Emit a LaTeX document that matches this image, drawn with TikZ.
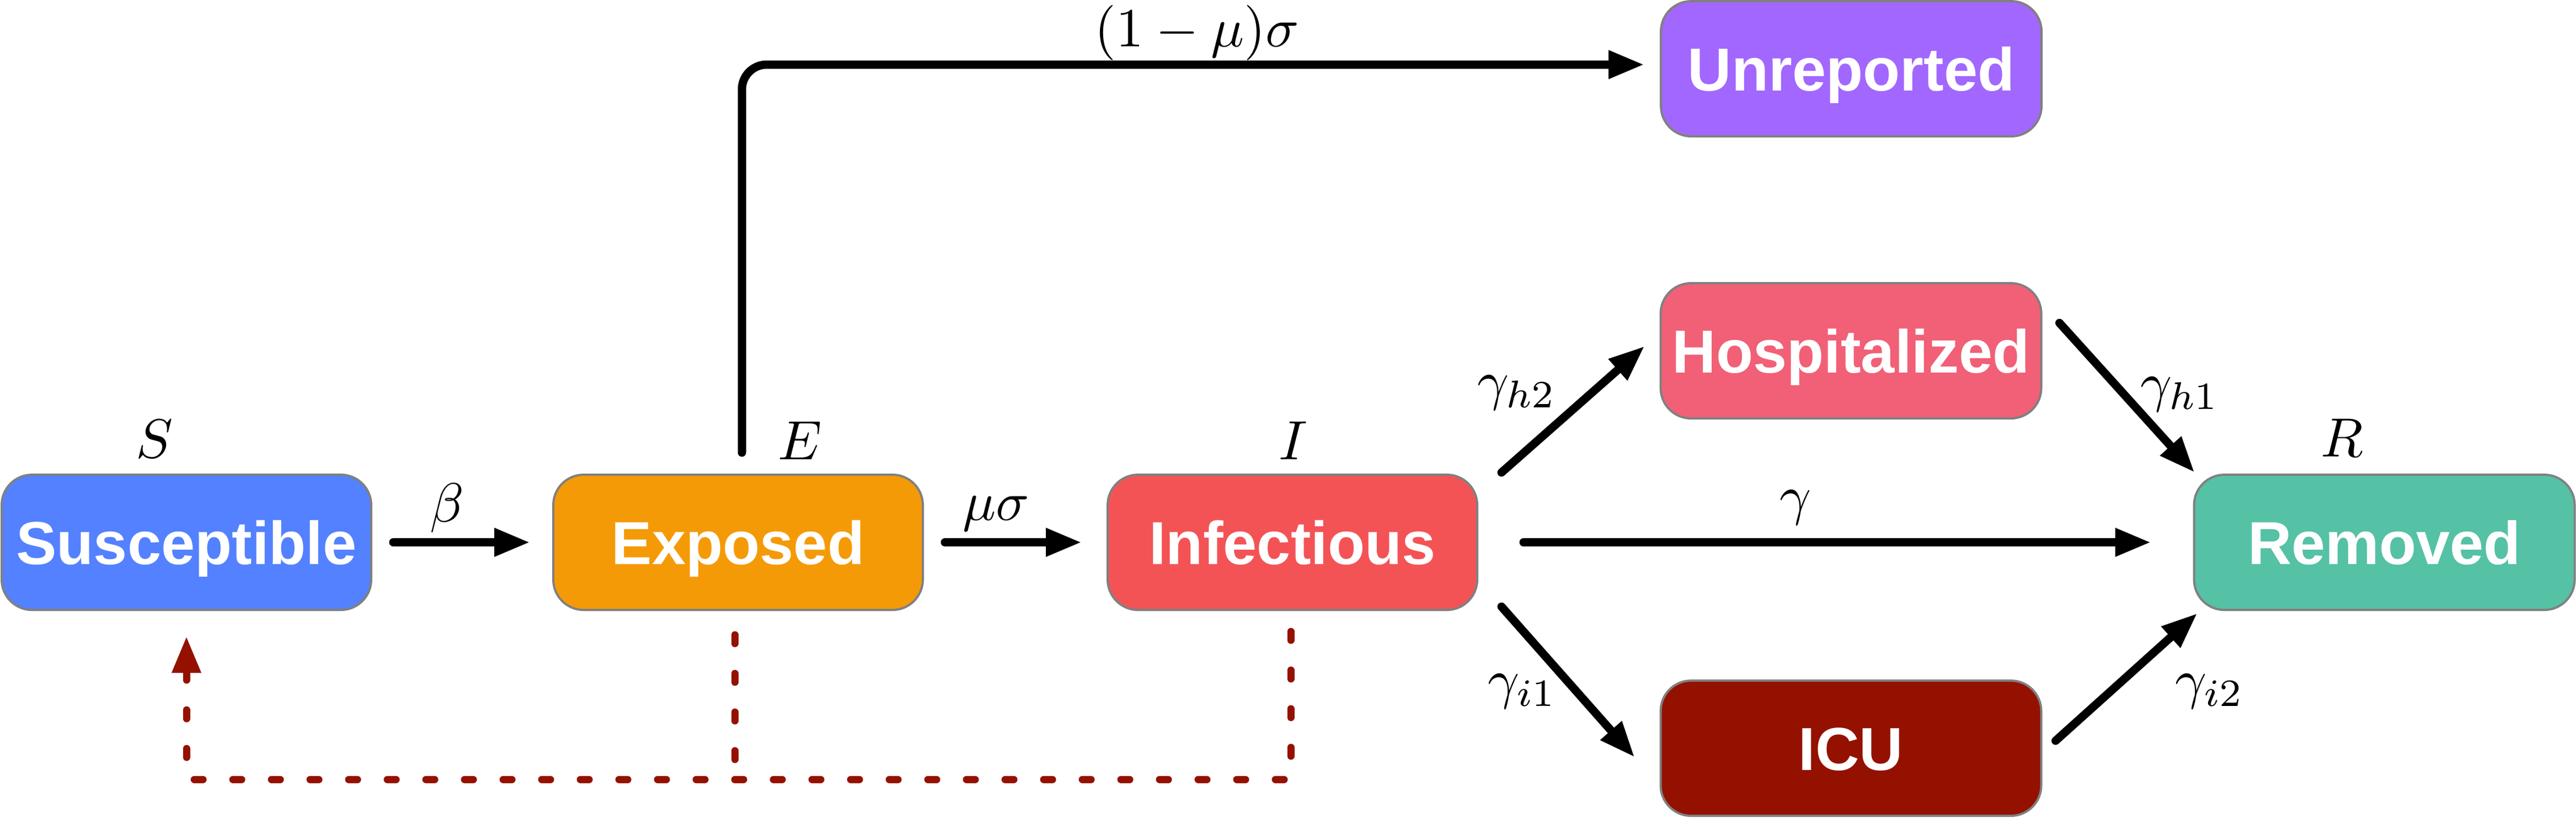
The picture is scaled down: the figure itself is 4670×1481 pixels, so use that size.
\documentclass[tikz,border=0pt]{standalone}
\usepackage{fontspec}
\newfontfamily\boxfont{Liberation Sans}
\usetikzlibrary{arrows.meta,calc}
\definecolor{cS}{HTML}{5381FF}
\definecolor{cE}{HTML}{F59A07}
\definecolor{cI}{HTML}{F45356}
\definecolor{cH}{HTML}{F16076}
\definecolor{cU}{HTML}{A267FE}
\definecolor{cICU}{HTML}{941100}
\definecolor{cR}{HTML}{55C1A5}
\definecolor{boxborder}{HTML}{808080}
\begin{document}
\begin{tikzpicture}[x=0.1pt,y=-0.1pt,
  box/.style={draw=boxborder, line width=0.4pt, rounded corners=5.5pt,
    minimum height=24.5pt, inner sep=0pt, text=white,
    font=\boxfont\bfseries\fontsize{11}{13}\selectfont,
    text height=7.9pt, text depth=0pt},
  lab/.style={inner sep=0pt, font=\fontsize{10}{12}\selectfont},
  arr/.style={line width=1.5pt, line cap=round, -{Triangle[length=6.5pt,width=4.8pt]}},
  darr/.style={draw=cICU, line width=1.3pt, line cap=round, dash pattern=on 1.6pt off 5.4pt},
]
\useasboundingbox (0,0) rectangle (4670,1481);

% boxes
\node[box, fill=cS, minimum width=67pt] (S) at (338,982.5) {Susceptible};
\node[box, fill=cE, minimum width=67pt] (E) at (1338,982.5) {Exposed};
\node[box, fill=cI, minimum width=67pt] (I) at (2343,982.5) {Infectious};
\node[box, fill=cU, minimum width=69pt] (U) at (3356,124.5) {Unreported};
\node[box, fill=cH, minimum width=69pt] (H) at (3355.5,635.5) {Hospitalized};
\node[box, fill=cICU, minimum width=69pt] (C) at (3355.5,1355.5) {ICU};
\node[box, fill=cR, minimum width=69pt] (R) at (4322.5,982.5) {Removed};

% compartment letters
\node[lab] (lS) at (280,795) {$S$};
\node[lab] (lE) at (1450,798) {$E$};
\node[lab] (lI) at (2344,798) {$I$};
\node[lab] (lR) at (4246,793) {$R$};

% rate labels
\node[lab] (lb) at (810,920) {$\beta$};
\node[lab] (lms) at (1806,931) {$\mu\sigma$};
\node[lab] (lums) at (2170,59) {$(1-\mu)\sigma$};
\node[lab] (lg) at (3255,920) {$\gamma$};
\node[lab] (lgh2) at (2750,712) {$\gamma_{h2}$};
\node[lab] (lgh1) at (3952,715) {$\gamma_{h1}$};
\node[lab] (lgi1) at (2760,1253) {$\gamma_{i1}$};
\node[lab] (lgi2) at (4006,1253) {$\gamma_{i2}$};

% solid arrows
\draw[arr, shorten <=3.8pt, shorten >=4pt] (S) -- (E);
\draw[arr, shorten <=3.8pt, shorten >=4.5pt] (E) -- (I);
\draw[arr, shorten <=8.2pt, shorten >=7.6pt] (I) -- (R);
\draw[arr] ([xshift=4.2pt,yshift=0.2pt]I.north east) -- ([xshift=-2.7pt,yshift=0.85pt]H.west);
\draw[arr] ([xshift=3.1pt,yshift=5.05pt]H.east) -- ([xshift=0.3pt,yshift=0.2pt]R.north west);
\draw[arr] ([xshift=4.2pt,yshift=0.8pt]I.south east) -- ([xshift=-4.5pt,yshift=-1.65pt]C.west);
\draw[arr] ([xshift=2.4pt,yshift=1.35pt]C.east) -- ([xshift=0.8pt,yshift=-0.4pt]R.south west);
\draw[arr, rounded corners=4.5pt] ([xshift=0.7pt,yshift=3.8pt]E.north) |- ([xshift=-2.8pt,yshift=0.75pt]U.west);

% dashed feedback
\draw[darr, -{Triangle[length=6.6pt,width=5pt]}] ([xshift=-0.3pt,yshift=-3.7pt]I.south) |- ([yshift=-30.5pt]S.south) -- ([yshift=-4.6pt]S.south);
\draw[darr] ([xshift=-0.6pt,yshift=-4.3pt]E.south) -- ([xshift=-0.6pt,yshift=-30.5pt]E.south);
\end{tikzpicture}
\end{document}
